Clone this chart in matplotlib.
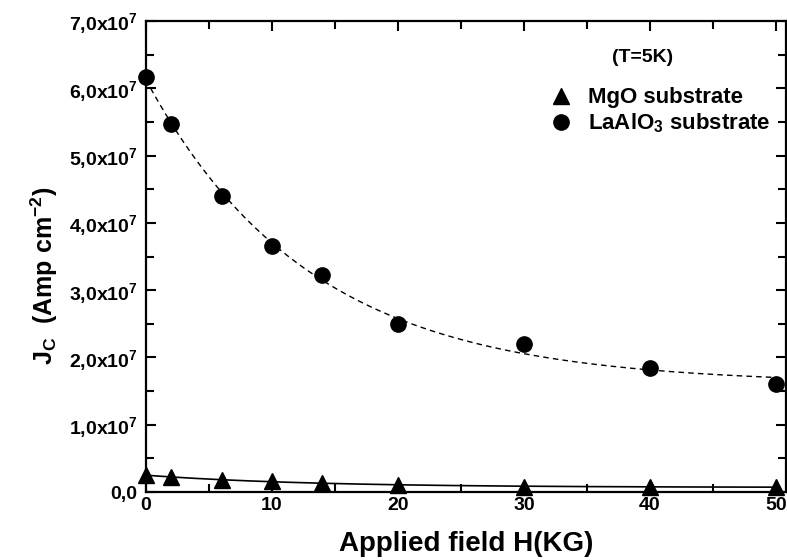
import numpy as np
import matplotlib
matplotlib.use('Agg')
import matplotlib.pyplot as plt
from matplotlib.ticker import MultipleLocator, FuncFormatter

plt.rcParams['font.family'] = ['Liberation Sans', 'DejaVu Sans']
plt.rcParams['font.weight'] = 'bold'
plt.rcParams['mathtext.default'] = 'regular'

# data (Jc in Amp cm^-2)
field = [0, 2, 6, 10, 14, 20, 30, 40, 50]
jc_lao = [6.17e7, 5.47e7, 4.40e7, 3.65e7, 3.23e7, 2.50e7, 2.20e7, 1.84e7, 1.60e7]
jc_mgo = [0.25e7, 0.22e7, 0.18e7, 0.16e7, 0.14e7, 0.10e7, 0.07e7, 0.08e7, 0.08e7]


def exp_fit(x, y):
    # y = y0 + A*exp(-x/t), grid over t, least squares for y0, A
    x = np.asarray(x, float)
    y = np.asarray(y, float)
    best = None
    for t in np.linspace(2, 60, 581):
        M = np.column_stack([np.ones_like(x), np.exp(-x / t)])
        coef, res, _, _ = np.linalg.lstsq(M, y, rcond=None)
        err = np.sum((M @ coef - y) ** 2)
        if best is None or err < best[0]:
            best = (err, coef, t)
    _, (y0, a), t = best
    return lambda xx: y0 + a * np.exp(-xx / t)


fig = plt.figure(figsize=(7.87, 5.6), dpi=100)
ax = fig.add_axes([146 / 787, 68 / 560, 640 / 787, 471 / 560])

xx = np.linspace(0, 50, 300)
ax.plot(xx, exp_fit(field, jc_lao)(xx), color='black', lw=1.0, dashes=(4, 3))
ax.plot(xx, exp_fit(field, jc_mgo)(xx), color='black', lw=1.2)

ax.plot(field, jc_mgo, '^', color='black', ms=12, ls='none', label='MgO substrate', clip_on=False, zorder=5)
ax.plot(field, jc_lao, 'o', color='black', ms=11, ls='none', label='LaAlO$_3$ substrate', clip_on=False, zorder=5)

ax.set_xlim(0, 50.8)
ax.set_ylim(0, 7e7)
ax.xaxis.set_major_locator(MultipleLocator(10))
ax.xaxis.set_minor_locator(MultipleLocator(5))
ax.yaxis.set_major_locator(MultipleLocator(1e7))
ax.yaxis.set_minor_locator(MultipleLocator(0.5e7))


def yfmt(v, pos):
    if abs(v) < 1:
        return '0,0'
    return '%d,0x10$^{7}$' % round(v / 1e7)


ax.yaxis.set_major_formatter(FuncFormatter(yfmt))
ax.tick_params(which='both', direction='in', top=True, right=True, width=1.5, labelsize=14)
ax.tick_params(which='major', length=7)
ax.tick_params(axis='y', pad=6)
ax.tick_params(which='minor', length=6)
for s in ax.spines.values():
    s.set_linewidth(1.6)

ax.set_xlabel('Applied field H(KG)', fontsize=20, fontweight='bold', labelpad=12)
ax.set_ylabel('J$_C$  (Amp cm$^{-2}$)', fontsize=18, fontweight='bold', labelpad=6)
ax.yaxis.set_label_coords(-0.135, 0.46)

fig.text(643 / 787, 1 - 58 / 560, '(T=5K)', fontsize=14, fontweight='bold', ha='center', va='center')
ax.legend(loc='upper left', bbox_to_anchor=(0.611, 0.878), frameon=False, fontsize=16,
          handletextpad=0.5, labelspacing=0.15, borderaxespad=0, handlelength=1.4)

fig.savefig('out.png', dpi=100)
